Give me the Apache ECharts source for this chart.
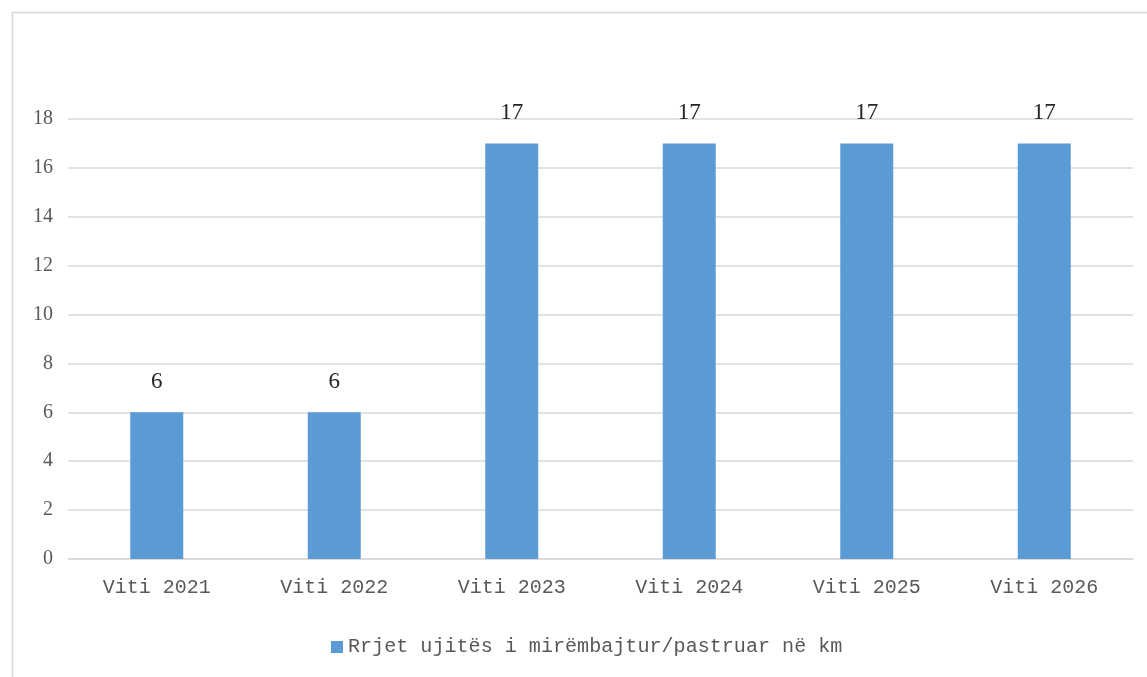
<!DOCTYPE html>
<html>
<head>
<meta charset="utf-8">
<script src="https://cdn.jsdelivr.net/npm/echarts@6/dist/echarts.min.js"></script>
<style>html,body{margin:0;padding:0;background:#fff}#c{width:1147px;height:677px}</style>
</head>
<body>
<div id="c"></div>
<script>
const categories = ["Viti 2021", "Viti 2022", "Viti 2023", "Viti 2024", "Viti 2025", "Viti 2026"];
const values = [6, 6, 17, 17, 17, 17];
const seriesName = "Rrjet ujitës i mirëmbajtur/pastruar në km";

const chart = echarts.init(document.getElementById('c'));
chart.setOption({
  backgroundColor: '#ffffff',
  animation: false,
  graphic: [{
    type: 'rect', left: 10, top: 10,
    shape: { width: 1200, height: 700 },
    style: { fill: 'none', stroke: '#d9d9d9', lineWidth: 1.5 },
    silent: true
  }],
  grid: { left: 68, right: 14, top: 119, bottom: 118, containLabel: false },
  legend: {
    bottom: 15, left: 326,
    itemWidth: 12, itemHeight: 12, itemGap: 8,
    icon: 'rect',
    textStyle: { fontFamily: 'Liberation Mono', fontSize: 20.1, color: '#595959' },
    data: [seriesName]
  },
  xAxis: {
    type: 'category',
    data: categories,
    axisLine: { show: true, lineStyle: { color: '#d9d9d9', width: 1.5 } },
    axisTick: { show: false },
    axisLabel: { fontFamily: 'Liberation Mono', fontSize: 20, color: '#595959', margin: 19 }
  },
  yAxis: {
    type: 'value', min: 0, max: 18, interval: 2,
    axisLine: { show: false },
    axisTick: { show: false },
    splitLine: { lineStyle: { color: '#d9d9d9', width: 1.5 } },
    axisLabel: { fontFamily: 'Liberation Serif', fontSize: 20, color: '#595959', margin: 15 }
  },
  series: [{
    name: seriesName,
    type: 'bar',
    data: values,
    barWidth: 53,
    itemStyle: { color: '#5b9bd5' },
    label: {
      show: true, position: 'top', distance: 19,
      fontFamily: 'Liberation Serif', fontSize: 23, color: '#262626'
    }
  }]
});
</script>
</body>
</html>
